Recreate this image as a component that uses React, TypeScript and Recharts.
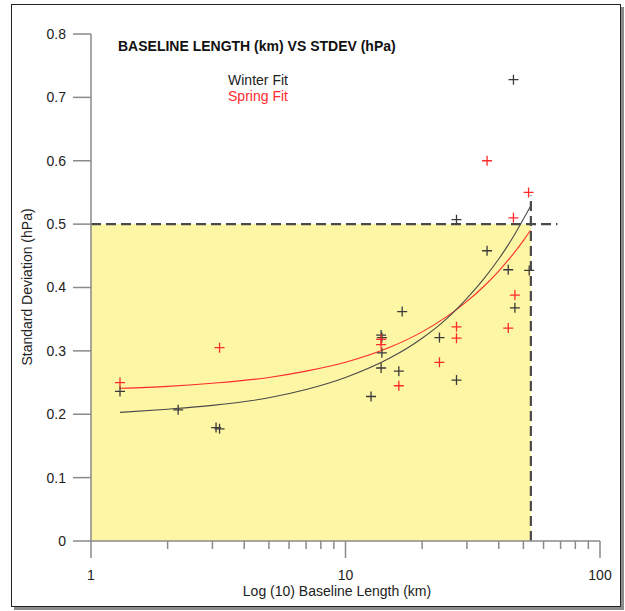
import React from "react";
import {
  ComposedChart,
  XAxis,
  YAxis,
  Line,
  Scatter,
  ReferenceArea,
  ReferenceLine,
} from "recharts";

// Winter (black) observations: baseline length (km), standard deviation (hPa)
const winterX = [1.3, 2.2, 3.1, 3.2, 12.6, 13.8, 13.9, 13.9, 13.8, 16.2, 16.7, 23.4, 27.3, 27.3, 36, 43.6, 45.7, 46.3, 52.7];
const winterY = [0.236, 0.207, 0.179, 0.177, 0.228, 0.325, 0.321, 0.297, 0.273, 0.268, 0.362, 0.321, 0.254, 0.507, 0.458, 0.428, 0.728, 0.368, 0.427];

// Spring (red) observations
const springX = [1.3, 3.2, 13.8, 13.8, 16.2, 23.4, 27.3, 27.3, 36, 43.6, 45.7, 46.3, 52.4];
const springY = [0.25, 0.305, 0.318, 0.31, 0.245, 0.282, 0.338, 0.32, 0.6, 0.336, 0.51, 0.388, 0.55];

// Fit curves
const fitX = [1.3, 2, 3, 5, 7, 10, 15, 20, 25, 30, 35, 40, 45, 50, 53.3];
const winterFitY = [0.203, 0.208, 0.214, 0.226, 0.239, 0.258, 0.289, 0.32, 0.351, 0.383, 0.414, 0.445, 0.476, 0.508, 0.528];
const springFitY = [0.241, 0.244, 0.249, 0.258, 0.268, 0.282, 0.306, 0.33, 0.354, 0.378, 0.402, 0.426, 0.45, 0.474, 0.49];

// Axis ticks
const yTicks = [0, 0.1, 0.2, 0.3, 0.4, 0.5, 0.6, 0.7, 0.8];
const xTicks = [1, 2, 3, 4, 5, 6, 7, 8, 9, 10, 20, 30, 40, 50, 60, 70, 80, 90, 100];
const xLabelled = [1, 10, 100];

// Threshold box
const limitX = 53.5;
const limitY = 0.5;
const hLineEndX = 68;
const vLineTopY = 0.545;

const zip = (xs: number[], ys: number[]) => xs.map((x, i) => ({ x, y: ys[i] }));
const winterPts = zip(winterX, winterY);
const springPts = zip(springX, springY);
const winterFit = zip(fitX, winterFitY);
const springFit = zip(fitX, springFitY);

const FONT = "'Liberation Sans', Arial, sans-serif";
const BLACK = "#3a3a3a";
const RED = "#ff2b2b";

const Plus = (color: string) => (props: any) => {
  const { cx, cy } = props;
  if (cx == null || cy == null) return <g />;
  const s = 5;
  return (
    <path
      d={`M${cx - s},${cy}H${cx + s}M${cx},${cy - s}V${cy + s}`}
      stroke={color}
      strokeWidth={1.3}
      fill="none"
    />
  );
};

const XTick = (props: any) => {
  const { x, y, payload } = props;
  const v = payload.value;
  const major = xLabelled.includes(v);
  return (
    <g>
      <line x1={x} x2={x} y1={y} y2={y + (major ? 17 : 8)} stroke="#8a8a8a" strokeWidth={1.5} />
      {major && (
        <text x={x} y={y + 39} textAnchor="middle" fontFamily={FONT} fontSize={14} fill="#222">
          {v}
        </text>
      )}
    </g>
  );
};

export default function App() {
  return (
    <div style={{ position: "absolute", left: 0, top: 0, width: 625, height: 611, background: "#fff" }}>
      <div
        style={{
          position: "absolute",
          left: 11,
          top: 4,
          width: 608,
          height: 601,
          border: "1px solid #222",
          boxShadow: "3px 3px 0 #8c8c8c",
        }}
      />
      <div style={{ position: "absolute", left: 0, top: 0 }}>
        <ComposedChart
          width={625}
          height={611}
          margin={{ top: 34, right: 25, bottom: 30, left: 31 }}
        >
          <XAxis
            type="number"
            dataKey="x"
            scale="log"
            domain={[1, 100]}
            ticks={xTicks}
            interval={0}
            allowDataOverflow
            height={40}
            tickSize={0}
            tickMargin={0}
            tick={<XTick />}
            axisLine={{ stroke: "#8a8a8a", strokeWidth: 1.5 }}
            tickLine={false}
          />
          <YAxis
            type="number"
            dataKey="y"
            domain={[0, 0.8]}
            ticks={yTicks}
            interval={0}
            allowDataOverflow
            width={60}
            tickSize={18}
            tickMargin={7}
            tickFormatter={(v: number) => (v === 0 ? "0" : v.toFixed(1))}
            tick={{ fontFamily: FONT, fontSize: 14, fill: "#222" }}
            tickLine={{ stroke: "#8a8a8a", strokeWidth: 1.5 }}
            axisLine={{ stroke: "#8a8a8a", strokeWidth: 1.5 }}
          />
          <ReferenceArea
            x1={1}
            x2={limitX}
            y1={0}
            y2={limitY}
            fill="#fdf6a4"
            fillOpacity={1}
            stroke="none"
            ifOverflow="visible"
          />
          <ReferenceLine
            segment={[{ x: 1, y: limitY }, { x: hLineEndX, y: limitY }]}
            stroke="#4a4a4a"
            strokeWidth={2.2}
            strokeDasharray="10 5"
            ifOverflow="visible"
          />
          <ReferenceLine
            segment={[{ x: limitX, y: 0 }, { x: limitX, y: vLineTopY }]}
            stroke="#4a4a4a"
            strokeWidth={2.2}
            strokeDasharray="10 5"
            ifOverflow="visible"
          />
          <Line
            data={springFit}
            dataKey="y"
            type="monotone"
            stroke={RED}
            strokeWidth={1.1}
            dot={false}
            activeDot={false}
            isAnimationActive={false}
          />
          <Line
            data={winterFit}
            dataKey="y"
            type="monotone"
            stroke="#4a4a4a"
            strokeWidth={1.1}
            dot={false}
            activeDot={false}
            isAnimationActive={false}
          />
          <Scatter data={winterPts} dataKey="y" shape={Plus(BLACK)} isAnimationActive={false} />
          <Scatter data={springPts} dataKey="y" shape={Plus(RED)} isAnimationActive={false} />
          <text x={118} y={51} fontFamily={FONT} fontSize={14} fontWeight="bold" fill="#111">
            BASELINE LENGTH (km) VS STDEV (hPa)
          </text>
          <text x={258} y={85} textAnchor="middle" fontFamily={FONT} fontSize={14} fill="#222">
            Winter Fit
          </text>
          <text x={258} y={101} textAnchor="middle" fontFamily={FONT} fontSize={14} fill={RED}>
            Spring Fit
          </text>
          <text
            x={0}
            y={0}
            transform="translate(32,287) rotate(-90)"
            textAnchor="middle"
            fontFamily={FONT}
            fontSize={14}
            fill="#222"
          >
            Standard Deviation (hPa)
          </text>
          <text x={337} y={596} textAnchor="middle" fontFamily={FONT} fontSize={14} fill="#222">
            Log (10) Baseline Length (km)
          </text>
        </ComposedChart>
      </div>
    </div>
  );
}
